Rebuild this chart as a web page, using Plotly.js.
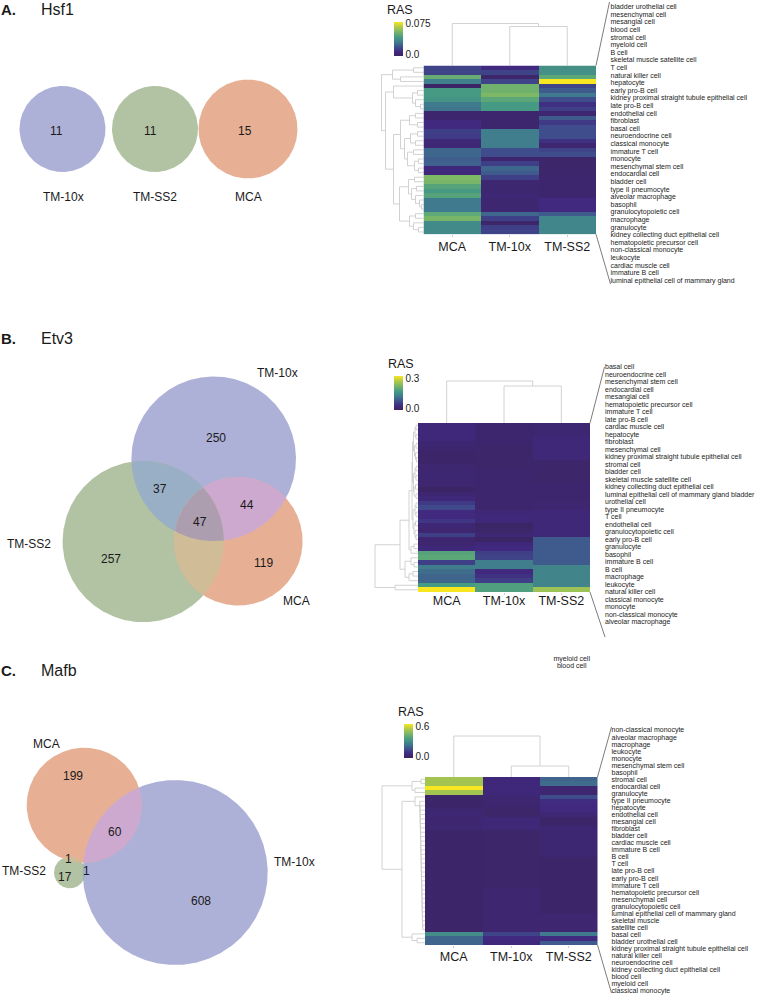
<!DOCTYPE html>
<html><head><meta charset="utf-8">
<script src="https://cdn.plot.ly/plotly-3.0.1.min.js"></script>
<style>html,body{margin:0;padding:0;background:#fff}</style></head>
<body><div id="chart" style="width:768px;height:996px"></div>
<script>
const datasets = ['MCA','TM-10x','TM-SS2'];
const sansFont = 'Liberation Sans, Arial, sans-serif';

// ---------- Heatmap values (RAS) ----------
const hsf1MCA = [.0165,.0165,.049,.032,.002,.041,.041,.039,.030,.029,.004,.004,.009,.009,.015,.014,.006,.006,.025,.025,.023,.024,.008,.008,.054,.053,.045,.041,.045,.030,.030,.030,.047,.053,.035,.035,.035];
const hsf110x = [.009,.0165,.003,.0165,.051,.051,.054,.0465,.041,.041,.004,.004,.004,.004,.0315,.0315,.0315,.0315,.019,.019,.004,.015,.025,.0225,.015,.005,.005,.005,.006,.005,.0045,.0045,.025,.015,.003,.015,.0165];
const hsf1SS2 = [.0375,.0375,.0465,.075,.0165,.0225,.03,.019,.011,.015,.005,.0225,.0135,.019,.019,.019,.011,.0045,.0165,.019,.003,.003,.003,.003,.004,.004,.004,.004,.004,.009,.009,.009,.0225,.034,.034,.034,.034];

const etv3MCA = [.03,.03,.03,.03,.021,.015,.009,.009,.009,.018,.021,.021,.018,.018,.006,.021,.027,.054,.072,.036,.036,.051,.024,.018,.06,.018,.018,.03,.18,.186,.06,.126,.108,.099,.099,.165,.3];
const etv310x = [.015,.015,.015,.015,.015,.012,.012,.012,.012,.012,.015,.015,.015,.015,.015,.015,.015,.015,.015,.024,.03,.03,.006,.012,.024,.006,.03,.036,.06,.066,.126,.126,.036,.045,.06,.174,.174];
const etv3SS2 = [.021,.021,.021,.027,.027,.027,.027,.027,.012,.012,.012,.012,.012,.015,.015,.015,.015,.018,.018,.027,.027,.027,.027,.027,.027,.09,.09,.09,.09,.09,.09,.135,.135,.135,.135,.135,.24];

const mafbMCA = [.49,.49,.6,.49,.018,.018,.018,.042,.048,.036,.036,.042,.018,.018,.018,.018,.018,.018,.018,.018,.018,.018,.018,.018,.018,.018,.018,.018,.018,.018,.018,.018,.018,.018,.018,.288,.198,.198];
const mafb10x = [.06,.06,.06,.06,.042,.036,.03,.024,.024,.054,.054,.054,.024,.024,.024,.024,.024,.024,.024,.024,.024,.024,.024,.024,.024,.036,.036,.036,.036,.036,.036,.036,.036,.036,.036,.132,.072,.06];
const mafbSS2 = [.198,.21,.036,.036,.15,.078,.072,.072,.048,.018,.018,.042,.042,.042,.042,.042,.042,.042,.018,.018,.018,.018,.018,.018,.018,.018,.018,.018,.018,.018,.018,.036,.036,.036,.036,.24,.072,.18];

// ---------- Cell type labels ----------
const hsf1Cells = ['bladder urothelial cell','mesenchymal cell','mesangial cell','blood cell','stromal cell','myeloid cell','B cell','skeletal muscle satellite cell','T cell','natural killer cell','hepatocyte','early pro-B cell','kidney proximal straight tubule epithelial cell','late pro-B cell','endothelial cell','fibroblast','basal cell','neuroendocrine cell','classical monocyte','immature T cell','monocyte','mesenchymal stem cell','endocardial cell','bladder cell','type II pneumocyte','alveolar macrophage','basophil','granulocytopoietic cell','macrophage','granulocyte','kidney collecting duct epithelial cell','hematopoietic precursor cell','non-classical monocyte','leukocyte','cardiac muscle cell','immature B cell','luminal epithelial cell of mammary gland'];
const etv3Cells = ['basal cell','neuroendocrine cell','mesenchymal stem cell','endocardial cell','mesangial cell','hematopoietic precursor cell','immature T cell','late pro-B cell','cardiac muscle cell','hepatocyte','fibroblast','mesenchymal cell','kidney proximal straight tubule epithelial cell','stromal cell','bladder cell','skeletal muscle satellite cell','kidney collecting duct epithelial cell','luminal epithelial cell of mammary gland bladder','urothelial cell','type II pneumocyte','T cell','endothelial cell','granulocytopoietic cell','early pro-B cell','granulocyte','basophil','immature B cell','B cell','macrophage','leukocyte','natural killer cell','classical monocyte','monocyte','non-classical monocyte','alveolar macrophage'];
const etv3Stray = ['myeloid cell','blood cell'];
const mafbCells = ['non-classical monocyte','alveolar macrophage','macrophage','leukocyte','monocyte','mesenchymal stem cell','basophil','stromal cell','endocardial cell','granulocyte','type II pneumocyte','hepatocyte','endothelial cell','mesangial cell','fibroblast','bladder cell','cardiac muscle cell','immature B cell','B cell','T cell','late pro-B cell','early pro-B cell','immature T cell','hematopoietic precursor cell','mesenchymal cell','granulocytopoietic cell','luminal epithelial cell of mammary gland','skeletal muscle','satellite cell','basal cell','bladder urothelial cell','kidney proximal straight tubule epithelial cell','natural killer cell','neuroendocrine cell','kidney collecting duct epithelial cell','blood cell','myeloid cell','classical monocyte'];

// ---------- Dendrogram merges: [height, childA, childB], leaves are row numbers ----------
const hsf1RowTree = [42,
  [31,[10,0,1],[23,2,3]],
  [38,
    [30,4,[11,[6,5,6],[8,7,[3,8,9]]]],
    [30,
      [23,[14,[8,10,11],[6,12,13]],[19,[13,[6,14,15],[8,16,17]],[16,[10,18,19],[9,[5,20,21],[5,22,23]]]]],
      [24,[15,[9,24,25],[12,[7,26,27],[8,28,[4,29,[2,30,31]]]]],[14,[8,32,33],[10,34,[5,35,36]]]]
    ]
  ]
];
const etv3RowTree = [43,
  [18,
    [9,
      [6,
        [5.5,[4.5,[3,[2,0,1],[2,2,3]],[3.5,[2,4,5],[2.5,6,[1.5,7,8]]]],[4.5,[3,[2,9,10],[2,11,12]],[4,[2.5,13,14],[2,15,16]]]],
        [5,[3,[2,17,18],[2,19,20]],[4,[2.5,21,22],[3,23,[2,24,25]]]]
      ],
      [7,[4,26,27],28]
    ],
    [13,[7,29,[4,30,31]],[9,[5,32,33],34]]
  ],
  [23,35,36]
];
const mafbStairRows = [5,6,7,8,9,10,11,12,13,14,15,16,17,18,19,20,21,22,23,24,25,26,27,28,29,30,31,32,33];
const mafbStairHeights = [5.2,5,4.9,4.8,4.7,4.6,4.5,4.4,4.3,4.2,4.1,4,3.9,3.8,3.7,3.6,3.5,3.4,3.3,3.2,3.1,3,2.9,2.8,2.7,2.6,2.5,2.4,2.2];
const mafbStair = mafbStairRows.reduceRight((next,r,i)=>[mafbStairHeights[i],r,next],34);
const mafbRowTree = [43,
  [13,[4,0,1],[10,2,3]],
  [23,[10,4,mafbStair],[13,35,[8,36,37]]]
];
const hsf1ColTree = [42,0,[39,1,2]];
const etv3ColTree = [42,0,[37,1,2]];
const mafbColTree = [41,0,[11,1,2]];

// ---------- Venn counts ----------
const hsf1Counts = ['11','11','15'];
const etv3Counts = ['250','37','44','47','257','119'];
const mafbCounts = ['199','60','1','17','1','608'];

// ---------- Colours ----------
const ras = [[0,'#3B2460'],[.12,'#40297F'],[.25,'#3F4C8C'],[.4,'#3F7A8E'],[.55,'#469B84'],[.7,'#76B46A'],[.85,'#B0C94A'],[1,'#F8E621']];
const c10x='#AEB1D7', cSS2='#B2C3A3', cMCA='#E7B095', c10xSS2='#99AFC6', c10xMCA='#CDA9CF', cSS2MCA='#D1BC98', cTriple='#AC9DAF';
const dendroGrey='#CDCDCD', edgeGrey='#444444';

// ---------- Panel geometry (page pixels) ----------
const W=768,H=996;
const panels=[
 {z:[hsf1MCA,hsf110x,hsf1SS2],x0:423.5,x1:596,y0:65.5,rowH:4.56,zmax:.075,ticks:['0.0','0.075'],standoff:-1,
  bar:[394,21.5],ras:[385,10],rowTree:hsf1RowTree,colTree:hsf1ColTree,cells:hsf1Cells,lx:610.5,ly0:7.5,lstep:7.6,
  fan:[[609.5,2],[610.5,284]]},
 {z:[etv3MCA,etv310x,etv3SS2],x0:418,x1:590,y0:423,rowH:4.57,zmax:.3,ticks:['0.0','0.3'],standoff:-5,
  bar:[393.5,376],ras:[386,364],rowTree:etv3RowTree,colTree:etv3ColTree,cells:etv3Cells,lx:605,ly0:367.7,lstep:7.49,
  fan:[[604.5,367],[605,637]]},
 {z:[mafbMCA,mafb10x,mafbSS2],x0:425,x1:597.5,y0:777,rowH:4.42,zmax:.6,ticks:['0.0','0.6'],standoff:-2,
  bar:[404,724],ras:[396,712],rowTree:mafbRowTree,colTree:mafbColTree,cells:mafbCells,lx:611.5,ly0:730.7,lstep:7.05,
  fan:[[611.5,727],[611.5,993]]}
];

const traces=[], annotations=[];
const layout={width:W,height:H,margin:{l:0,r:0,t:0,b:0,autoexpand:false},paper_bgcolor:'#fff',plot_bgcolor:'rgba(0,0,0,0)',
  showlegend:false,font:{family:sansFont,color:'#1a1a1a'},
  xaxis:{domain:[0,1],range:[0,W],visible:false,fixedrange:true},
  yaxis:{domain:[0,1],range:[H,0],visible:false,fixedrange:true},annotations};

function label(text,x,y,size,opt){annotations.push(Object.assign({text,x,y,xref:'x',yref:'y',showarrow:false,xanchor:'center',yanchor:'middle',
  font:{size,family:sansFont,color:'#1a1a1a'}},opt||{}));}

// ---------- Venn drawing helpers ----------
function inside(p,cs){return cs.every(c=>Math.hypot(p[0]-c[0],p[1]-c[1])<=c[2]+1e-6);}
function region(cs,fill){
  // boundary of the intersection of circles (always convex), traced by angle around its centroid
  const pts=[];
  cs.forEach((c,i)=>{for(let k=0;k<720;k++){const a=k/720*2*Math.PI,p=[c[0]+c[2]*Math.cos(a),c[1]+c[2]*Math.sin(a)];
    if(inside(p,cs.filter((_,j)=>j!==i)))pts.push(p);}});
  if(!pts.length)return;
  const mx=pts.reduce((s,p)=>s+p[0],0)/pts.length,my=pts.reduce((s,p)=>s+p[1],0)/pts.length;
  pts.sort((a,b)=>Math.atan2(a[1]-my,a[0]-mx)-Math.atan2(b[1]-my,b[0]-mx));
  pts.push(pts[0]);
  traces.push({type:'scatter',mode:'lines',x:pts.map(p=>p[0]),y:pts.map(p=>p[1]),fill:'toself',fillcolor:fill,
    line:{width:0,color:fill},hoverinfo:'skip',xaxis:'x',yaxis:'y'});
}

// Panel A circles
const a10x=[62.5,129,43],aSS2=[155,129,43],aMCA=[248,129,49.5];
region([a10x],c10x);region([aSS2],cSS2);region([aMCA],cMCA);
// Panel B circles
const b10x=[213.7,458.8,82.3],bSS2=[143.3,541.5,80.7],bMCA=[238.3,541.2,64.3];
region([b10x],c10x);region([bSS2],cSS2);region([bMCA],cMCA);
region([b10x,bSS2],c10xSS2);region([b10x,bMCA],c10xMCA);region([bSS2,bMCA],cSS2MCA);region([b10x,bSS2,bMCA],cTriple);
// Panel C circles
const c_10x=[175.2,872.5,92.5],c_SS2=[69.8,872.5,15.8],c_MCA=[84.2,805.2,57.5];
region([c_10x],c10x);region([c_SS2],cSS2);region([c_MCA],cMCA);
region([c_10x,c_MCA],c10xMCA);region([c_SS2,c_MCA],cSS2MCA);region([c_10x,c_SS2],c10xSS2);

// Venn text
[[56,131],[150,131],[245,131]].forEach((p,i)=>label(hsf1Counts[i],p[0],p[1],12));
label('TM-10x',63,197,12);label('TM-SS2',155,197,12);label('MCA',248,197,12);
[[216,438],[159.7,489],[247.3,505],[200,522.3],[111,559.3],[263,562.7]].forEach((p,i)=>label(etv3Counts[i],p[0],p[1],12));
label('TM-10x',277.7,372.7,12);label('TM-SS2',29.3,544.3,12);label('MCA',296,601,12);
[[73,775.7],[115,832.3],[68.7,858.7],[64.7,877.3],[86.3,871],[201.3,901.3]].forEach((p,i)=>label(mafbCounts[i],p[0],p[1],12));
label('MCA',46,743.7,12);label('TM-SS2',24,871,12);label('TM-10x',294.3,862.3,12);

// Panel headings
[['A.','Hsf1',9],['B.','Etv3',338],['C.','Mafb',670]].forEach(h=>{
  label('<b>'+h[0]+'</b>',1,h[2],15,{xanchor:'left',borderpad:0,xshift:-1});
  label(h[1],39,h[2],16,{xanchor:'left',borderpad:0,xshift:1});
});

// ---------- Heatmap panels ----------
function tree(node,pos,segs){
  if(typeof node==='number')return {p:pos(node),h:0};
  const a=tree(node[1],pos,segs),b=tree(node[2],pos,segs),h=node[0];
  segs.push([a.p,a.h,a.p,h]);segs.push([a.p,h,b.p,h]);segs.push([b.p,h,b.p,b.h]);
  return {p:(a.p+b.p)/2,h};
}
function lineTrace(xs,ys,color,width){
  traces.push({type:'scatter',mode:'lines',x:xs,y:ys,line:{color,width},hoverinfo:'skip',xaxis:'x',yaxis:'y',connectgaps:false});
}
panels.forEach((P,i)=>{
  const n=i+2,nr=P.z[0].length,y1=P.y0+P.rowH*nr;
  const rows=P.z[0].map((_,r)=>P.z.map(col=>col[r]));
  const ya='y'+n, xa='x'+n;
  traces.push({type:'heatmap',z:rows,x:datasets,y:rows.map((_,r)=>r),xaxis:xa,yaxis:ya,colorscale:ras,zmin:0,zmax:P.zmax,
    hoverinfo:'skip',colorbar:{x:P.bar[0]/W,xanchor:'left',y:1-P.bar[1]/H,yanchor:'top',thicknessmode:'pixels',thickness:9,
      lenmode:'pixels',len:33.5,xpad:0,ypad:0,outlinewidth:0,borderwidth:0,tickmode:'array',tickvals:[P.zmax*0.03,P.zmax*0.93],ticktext:P.ticks,
      ticks:'',ticklabelposition:'outside',tickfont:{size:10,family:sansFont,color:'#1a1a1a'}}});
  layout['xaxis'+n]={domain:[P.x0/W,P.x1/W],anchor:ya,side:'bottom',type:'category',categoryorder:'array',categoryarray:datasets,
    ticks:'outside',ticklen:2,tickwidth:1,tickcolor:dendroGrey,ticklabelstandoff:P.standoff,tickfont:{size:12.5,family:sansFont,color:'#1a1a1a'},showgrid:false,zeroline:false,showline:false,fixedrange:true};
  layout['yaxis'+n]={domain:[1-y1/H,1-P.y0/H],anchor:xa,range:[nr-.5,-.5],visible:false,fixedrange:true};

  // RAS title and row labels
  label('RAS',P.ras[0],P.ras[1],12.5,{xanchor:'left'});
  traces.push({type:'scatter',mode:'text',x:P.cells.map(()=>P.lx),y:P.cells.map((_,k)=>P.ly0+k*P.lstep),text:P.cells,
    textposition:'middle right',textfont:{size:7,family:sansFont,color:'#222'},cliponaxis:false,hoverinfo:'skip',xaxis:'x',yaxis:'y'});

  // dendrograms
  const rowSegs=[],colSegs=[];
  tree(P.rowTree,r=>P.y0+P.rowH*(r+.5),rowSegs);
  const cw=(P.x1-P.x0)/3;
  tree(P.colTree,c=>P.x0+cw*(c+.5),colSegs);
  const xs=[],ys=[];
  rowSegs.forEach(s=>{xs.push(P.x0-s[1],P.x0-s[3],null);ys.push(s[0],s[2],null);});
  colSegs.forEach(s=>{xs.push(s[0],s[2],null);ys.push(P.y0-s[1],P.y0-s[3],null);});
  lineTrace(xs,ys,dendroGrey,.9);

  // fan lines to the label column
  lineTrace([P.x1,P.fan[0][0],null,P.x1,P.fan[1][0]],[P.y0,P.fan[0][1],null,y1,P.fan[1][1]],edgeGrey,.7);
});
// two row labels that sit away from the Etv3 column
traces.push({type:'scatter',mode:'text',x:etv3Stray.map(()=>571.7),y:[659.3,666.7],text:etv3Stray,textposition:'middle center',
  textfont:{size:7,family:sansFont,color:'#222'},cliponaxis:false,hoverinfo:'skip',xaxis:'x',yaxis:'y'});

Plotly.newPlot('chart',traces,layout,{displayModeBar:false,responsive:false,staticPlot:true});
</script></body></html>
